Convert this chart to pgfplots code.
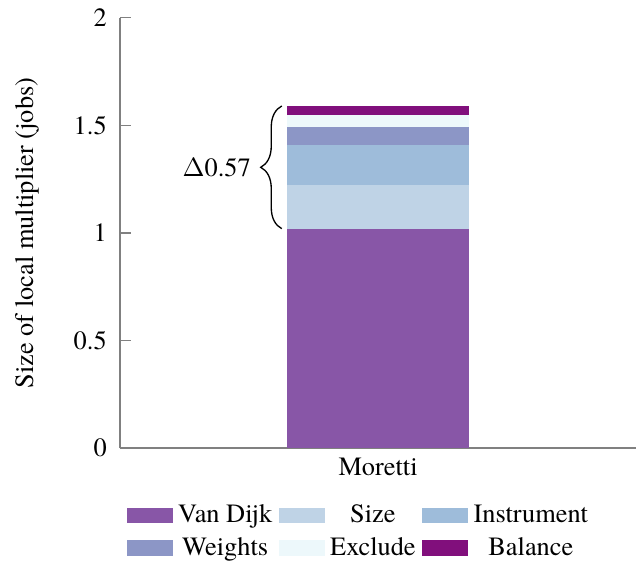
\documentclass[border=0pt]{standalone}
\usepackage{fontspec}
\setmainfont{TeX Gyre Termes}
\usepackage{pgfplots}
\pgfplotsset{compat=1.18}
\usetikzlibrary{decorations.pathreplacing}
\definecolor{cA}{HTML}{8856A7}
\definecolor{cB}{HTML}{BFD3E6}
\definecolor{cC}{HTML}{9EBCDA}
\definecolor{cD}{HTML}{8C96C6}
\definecolor{cE}{HTML}{EDF8FB}
\definecolor{cF}{HTML}{810F7C}
\begin{document}
\begin{tikzpicture}
\begin{axis}[
  scale only axis,
  width=195.8pt, height=163.3pt,
  ybar stacked,
  bar width=0.708,
  xmin=-1, xmax=1,
  ymin=0, ymax=2,
  xtick={0}, xticklabels={Moretti},
  ytick={0,0.5,1,1.5,2},
  axis x line*=bottom, axis y line*=left,
  axis line style={gray, line width=0.6pt},
  x axis line style={-}, y axis line style={-},
  major tick length=4.2pt,
  xtick style={draw=none},
  ytick style={gray, line width=0.5pt},
  tick align=inside,
  yticklabel style={xshift=-1.5pt},
  /pgf/number format/assume math mode=true,
  ylabel={Size of local multiplier (jobs)},
  ylabel style={yshift=6.4pt},
  legend style={draw=none, at={(0.465,-0.105)}, anchor=north, legend columns=3,
    /tikz/every even column/.append style={column sep=0.5pt},
    row sep=0pt},
  legend cell align=center,
  legend image code/.code={\fill[#1] (0pt,-3pt) rectangle (17.5pt,3pt);},
]
\addplot[fill=cA, draw=none] coordinates {(0,1.02)};
\addplot[fill=cB, draw=none] coordinates {(0,0.205)};
\addplot[fill=cC, draw=none] coordinates {(0,0.185)};
\addplot[fill=cD, draw=none] coordinates {(0,0.081)};
\addplot[fill=cE, draw=none] coordinates {(0,0.056)};
\addplot[fill=cF, draw=none] coordinates {(0,0.043)};
\legend{Van Dijk,Size,Instrument,Weights,Exclude,Balance}
\draw[decorate, decoration={brace, amplitude=8pt}, line width=0.5pt]
  (axis cs:-0.373,1.02) -- (axis cs:-0.373,1.59)
  node[midway, left=11.5pt, inner sep=0pt] {$\Delta$0.57};
\end{axis}
\path (current axis.south west) ++(-45.5pt,0pt) coordinate (padL);
\end{tikzpicture}
\end{document}
